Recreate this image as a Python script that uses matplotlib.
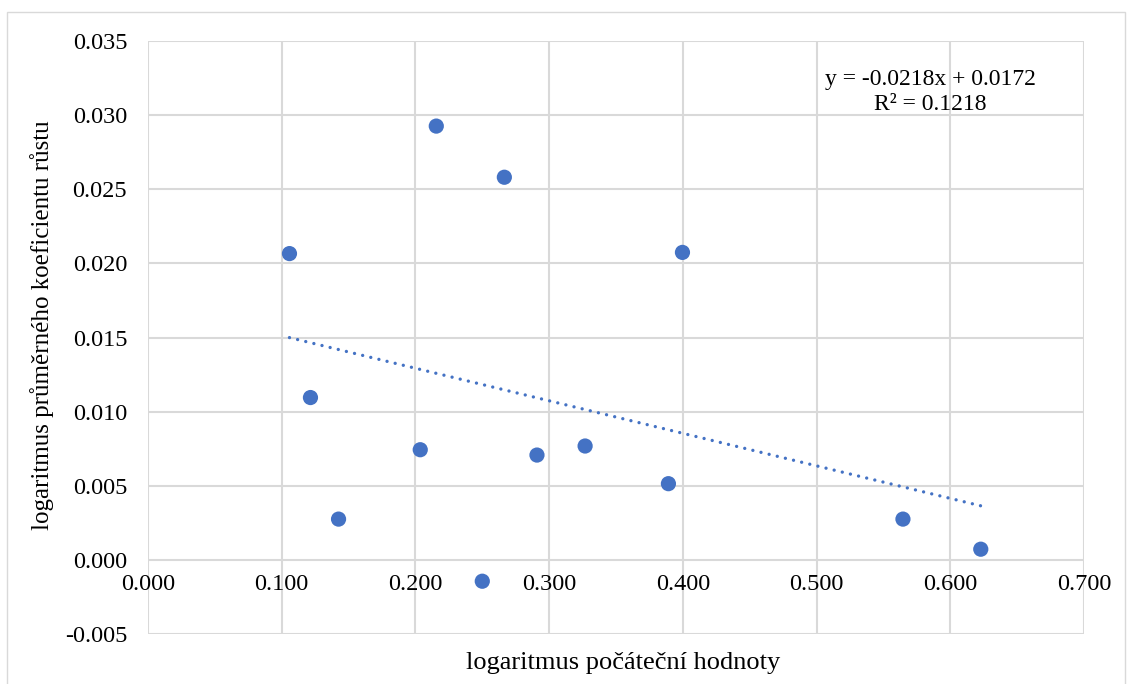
import numpy as np
import matplotlib
matplotlib.use("Agg")
import matplotlib.pyplot as plt
from matplotlib.patches import Rectangle

x_vals = [0.1058, 0.1215, 0.1425, 0.2036, 0.2156, 0.2500, 0.2665, 0.2909, 0.3269, 0.3892, 0.3997, 0.5646, 0.6228]
y_vals = [0.02066, 0.01095, 0.00275, 0.00743, 0.02926, -0.00144, 0.02581, 0.00707, 0.00768, 0.00514, 0.02074, 0.00275, 0.00072]
x_ticks = [0.0, 0.1, 0.2, 0.3, 0.4, 0.5, 0.6, 0.7]
y_ticks = [-0.005, 0.0, 0.005, 0.010, 0.015, 0.020, 0.025, 0.030, 0.035]
x_label = "logaritmus počáteční hodnoty"
y_label = "logaritmus průměrného koeficientu růstu"
eq_text = "y = -0.0218x + 0.0172\nR² = 0.1218"

plt.rcParams['font.family'] = ['Liberation Serif', 'DejaVu Serif']

W, H = 1130, 684
fig = plt.figure(figsize=(W / 100, H / 100), dpi=100)
fig.patch.set_facecolor('white')

# chart area border
fig.patches.append(Rectangle((7 / W, 1 - 700 / H), (1125 - 7) / W, (700 - 12) / H,
                             transform=fig.transFigure, fill=False,
                             edgecolor='#d9d9d9', linewidth=1.0))

left, right, top, bottom = 148, 1084, 41, 634
ax = fig.add_axes([left / W, 1 - bottom / H, (right - left) / W, (bottom - top) / H])

blue = '#4472C4'
grid_c = '#d9d9d9'

ax.set_xlim(0, 0.7)
ax.set_ylim(-0.005, 0.035)
ax.set_xticks(x_ticks)
ax.set_yticks(y_ticks)
ax.set_xticklabels([f"{v:.3f}" for v in x_ticks])
ax.set_yticklabels([f"{v:.3f}" for v in y_ticks])

for s in ax.spines.values():
    s.set_visible(False)
ax.spines['bottom'].set_position(('data', 0))

ax.grid(True, color=grid_c, linewidth=1.5)
ax.set_axisbelow(True)
ax.tick_params(axis='both', length=0, labelsize=17.5, colors='black')
ax.tick_params(axis='y', pad=15)
ax.tick_params(axis='x', pad=10)

# trendline via linear regression
xa = np.array(x_vals)
ya = np.array(y_vals)
m, b = np.polyfit(xa, ya, 1)
xt = np.array([xa.min(), xa.max()])
ax.plot(xt, m * xt + b, color=blue, linewidth=2.4,
        linestyle=(0, (0.01, 2.5)), dash_capstyle='round', zorder=2)

ax.scatter(xa, ya, s=120, color=blue, edgecolors='none', zorder=3)

fig.text(930 / W, 1 - 92 / H, eq_text, ha='center', va='center',
         fontsize=17, linespacing=1.2)

fig.text(623 / W, 1 - 663 / H, x_label, ha='center', va='center', fontsize=19)
fig.text(42 / W, 1 - 325 / H, y_label, ha='center', va='center', fontsize=18,
         rotation=90)

fig.savefig('out.png', dpi=100)
